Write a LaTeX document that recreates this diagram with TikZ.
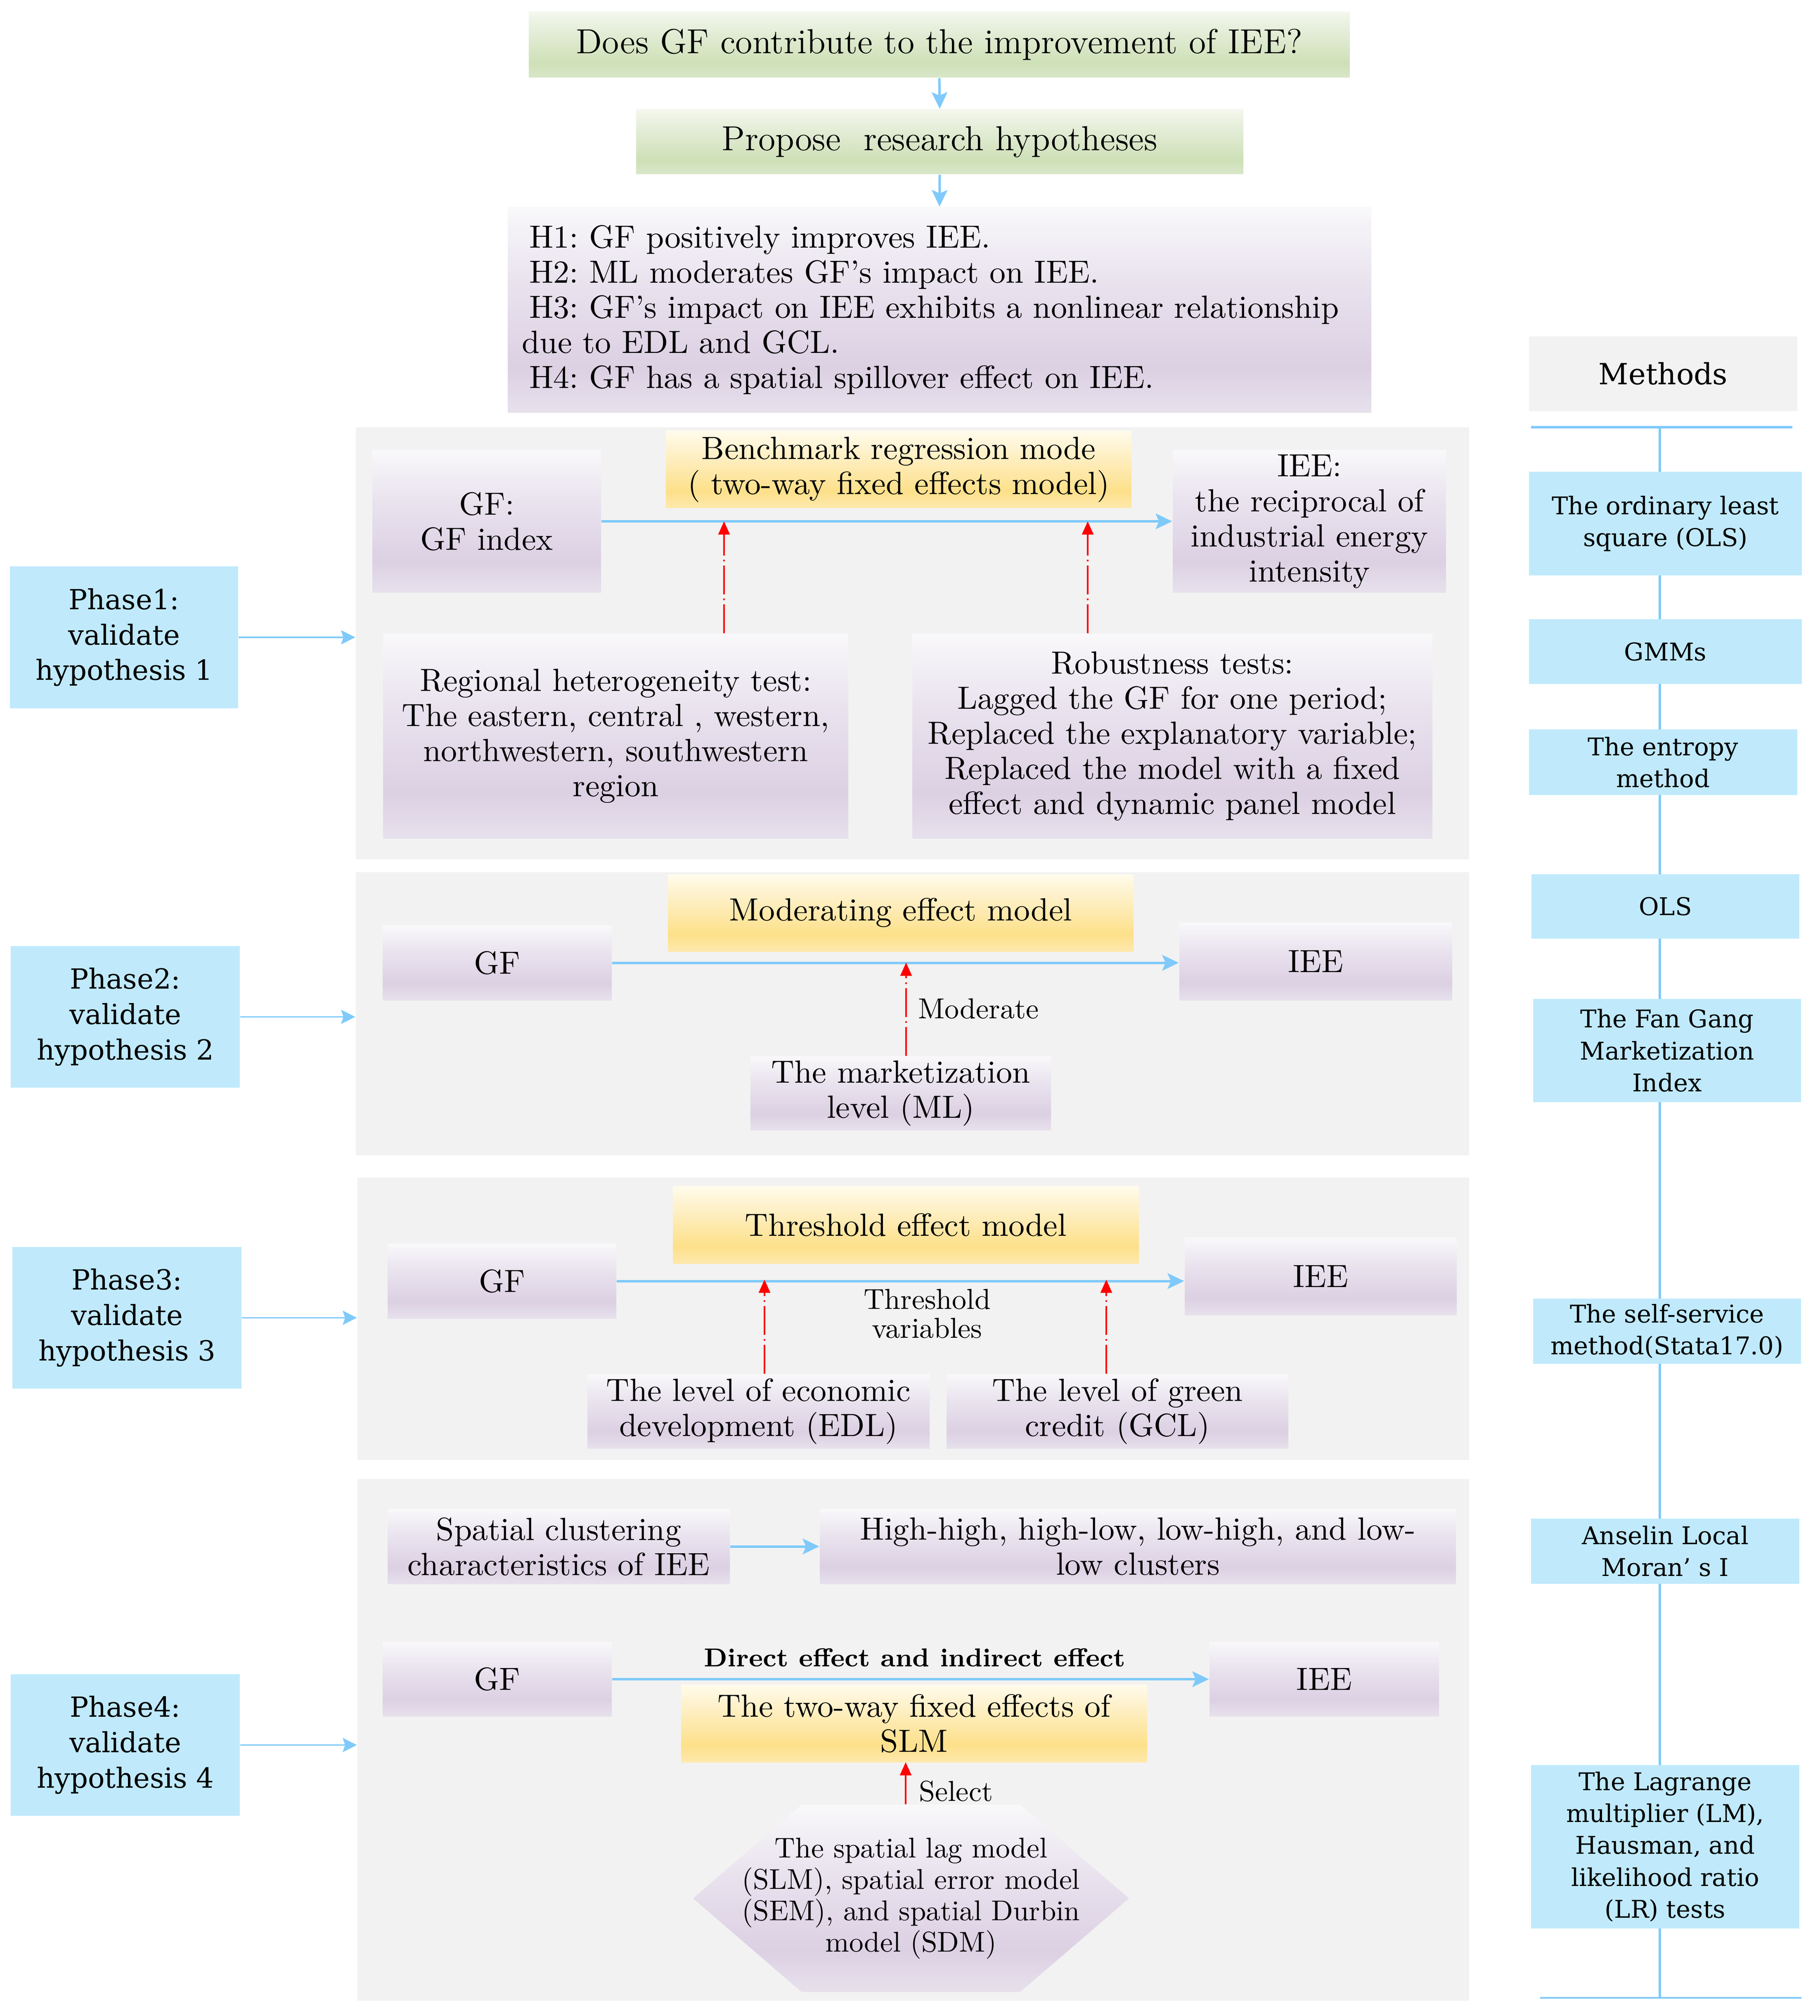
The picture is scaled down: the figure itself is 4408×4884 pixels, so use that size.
\documentclass[tikz,border=0pt]{standalone}
\usepackage{fontspec}
\newfontfamily\mfont{DejaVu Serif}
\usetikzlibrary{arrows.meta,calc}
\frenchspacing
\definecolor{panelgray}{HTML}{F2F2F2}
\definecolor{cyanfill}{HTML}{C0EAFC}
\definecolor{blueline}{HTML}{7FCAFA}
\definecolor{redline}{HTML}{FF0000}
\definecolor{pT}{HTML}{F9F8FA}
\definecolor{pM}{HTML}{EAE4EF}
\definecolor{pD}{HTML}{DCD0E3}
\definecolor{pB}{HTML}{E7E1EC}
\definecolor{yT}{HTML}{FFFBEC}
\definecolor{yM}{HTML}{FEEFC2}
\definecolor{yD}{HTML}{FDE08A}
\definecolor{yB}{HTML}{FEE9AD}
\definecolor{gT}{HTML}{F4F7EE}
\definecolor{gM}{HTML}{E2ECD5}
\definecolor{gD}{HTML}{CEE0B7}
\definecolor{gB}{HTML}{D9E7C9}
\pgfdeclareverticalshading{purp}{100bp}{color(0bp)=(pB); color(25bp)=(pB); color(36bp)=(pD); color(58bp)=(pM); color(75bp)=(pT); color(100bp)=(pT)}
\pgfdeclareverticalshading{yel}{100bp}{color(0bp)=(yB); color(25bp)=(yB); color(36bp)=(yD); color(58bp)=(yM); color(75bp)=(yT); color(100bp)=(yT)}
\pgfdeclareverticalshading{grn}{100bp}{color(0bp)=(gB); color(25bp)=(gB); color(36bp)=(gD); color(58bp)=(gM); color(75bp)=(gT); color(100bp)=(gT)}
\newcommand\bodyfont{\fontsize{10.9}{11.9}\selectfont}
\newcommand\titlefont{\fontsize{11.8}{13.3}\selectfont}
\newcommand\labfont{\fontsize{9.8}{9.8}\selectfont}
\newcommand\hexfont{\fontsize{9.7}{10.6}\selectfont}
\newcommand\methfont{\mfont\fontsize{8.3}{10.8}\selectfont}
\newcommand\phasefont{\mfont\fontsize{9.4}{12}\selectfont}
\newcommand\placebox[7]{\node[#2, minimum width={(#5-#3)*0.14pt}, minimum height={(#6-#4)*0.14pt}] (#1) at ({(#3+#5)/2},{(#4+#6)/2}) {#7};}
\begin{document}
\begin{tikzpicture}[x=0.14pt,y=-0.14pt,
  purpbox/.style={shade,shading=purp,inner sep=0.7pt,align=center,font=\bodyfont},
  yelbox/.style={shade,shading=yel,inner sep=0.7pt,align=center,font=\bodyfont},
  grnbox/.style={shade,shading=grn,inner sep=0.7pt,align=center,font=\titlefont},
  methbox/.style={fill=cyanfill,inner sep=0.7pt,align=center,font=\methfont},
  phasebox/.style={fill=cyanfill,inner sep=0.7pt,align=center,font=\phasefont},
  panelbox/.style={fill=panelgray,inner sep=0pt},
  barrow/.style={draw=blueline,line width=0.84pt,-{Stealth[length=5.6pt,width=5.3pt,inset=1.1pt]}},
  parrow/.style={draw=blueline,line width=0.5pt,-{Stealth[length=4.8pt,width=4.8pt,inset=0.8pt]}},
  rarrow/.style={draw=redline,line width=0.56pt,dash pattern=on 9.8pt off 1.4pt on 0.56pt off 1.4pt,-{Triangle[length=4.5pt,width=3.9pt]}},
  lab/.style={font=\labfont,align=center,inner sep=0pt},
  mline/.style={draw=blueline,line width=0.84pt}
]
\useasboundingbox (0,0) rectangle (4408,4884);
% methods spine
\coordinate (mlT1) at (3709,1035); \coordinate (mlT2) at (4342,1035);
\coordinate (mlV1) at (4021,1035); \coordinate (mlV2) at (4021,4840);
\coordinate (mlB1) at (3731,4840); \coordinate (mlB2) at (4364,4840);
\draw[mline] (mlT1) -- (mlT2);
\draw[mline] (mlV1) -- (mlV2);
\draw[draw=blueline,line width=0.56pt] (mlB1) -- (mlB2);
% panels
\placebox{pan1}{panelbox}{862}{1035}{3559}{2082}{}
\placebox{pan2}{panelbox}{862}{2113}{3559}{2799}{}
\placebox{pan3}{panelbox}{866}{2853}{3559}{3537}{}
\placebox{pan4}{panelbox}{866}{3583}{3559}{4847}{}
% top
\placebox{q}{grnbox}{1281}{29}{3270}{188}{Does GF contribute to the improvement of IEE?}
\placebox{prop}{grnbox}{1541}{265}{3012}{422}{Propose\ \ research hypotheses}
\placebox{hyp}{purpbox,align=left,text width=283.2pt,inner xsep=4.8pt}{1230}{502}{3322}{1000}{%
\hspace*{2.5pt}H1: GF positively improves IEE.\\
\hspace*{2.5pt}H2: ML moderates GF’s impact on IEE.\\
\makebox[283.2pt][s]{\hspace*{2.5pt}H3: GF’s impact on IEE exhibits a nonlinear relationship}\\
due to EDL and GCL.\\
\hspace*{2.5pt}H4: GF has a spatial spillover effect on IEE.}
\draw[barrow] (q.south) -- (prop.north);
\draw[barrow] (prop.south) -- (hyp.north);
% methods
\placebox{mhead}{fill=panelgray,inner sep=0.7pt,font=\mfont\fontsize{9.9}{11.9}\selectfont}{3704}{815}{4354}{996}{Methods}
\placebox{m1}{methbox}{3704}{1143}{4365}{1394}{The ordinary least\\square (OLS)}
\placebox{m2}{methbox}{3704}{1500}{4365}{1657}{GMMs}
\placebox{m3}{methbox}{3704}{1767}{4354}{1926}{The entropy\\method}
\placebox{m4}{methbox}{3710}{2118}{4359}{2274}{OLS}
\placebox{m5}{methbox}{3714}{2420}{4363}{2670}{The Fan Gang\\Marketization\\Index}
\placebox{m6}{methbox}{3714}{3146}{4363}{3304}{The self-service\\method(Stata17.0)}
\placebox{m7}{methbox}{3709}{3679}{4359}{3837}{Anselin Local\\Moran’ s I}
\placebox{m8}{methbox}{3709}{4276}{4359}{4672}{The Lagrange\\multiplier (LM),\\Hausman, and\\likelihood ratio\\(LR) tests}
% phases
\placebox{ph1}{phasebox}{24}{1372}{577}{1716}{Phase1:\\validate\\hypothesis 1}
\placebox{ph2}{phasebox}{26}{2292}{581}{2635}{Phase2:\\validate\\hypothesis 2}
\placebox{ph3}{phasebox}{30}{3021}{585}{3364}{Phase3:\\validate\\hypothesis 3}
\placebox{ph4}{phasebox}{26}{4056}{581}{4399}{Phase4:\\validate\\hypothesis 4}
\draw[parrow] (ph1.east) -- (ph1.east -| pan1.west);
\draw[parrow] (ph2.east) -- (ph2.east -| pan2.west);
\draw[parrow] (ph3.east) -- (ph3.east -| pan3.west);
\draw[parrow] (ph4.east) -- (ph4.east -| pan4.west);
% panel 1
\placebox{gf1}{purpbox}{902}{1091}{1456}{1435}{GF:\\GF index}
\placebox{bench}{yelbox}{1613}{1044}{2741}{1231}{Benchmark regression mode\\( two-way fixed effects model)}
\placebox{iee1}{purpbox}{2841}{1091}{3503}{1435}{IEE:\\the reciprocal of\\industrial energy\\intensity}
\placebox{reg}{purpbox}{928}{1535}{2055}{2031}{Regional heterogeneity test:\\The eastern, central , western,\\northwestern, southwestern\\region}
\placebox{rob}{purpbox}{2210}{1535}{3470}{2031}{Robustness tests:\\Lagged the GF for one period;\\Replaced the explanatory variable;\\Replaced the model with a fixed\\effect and dynamic panel model}
\draw[barrow] (gf1.east) -- (iee1.west);
\coordinate (t1a) at (1754,1263);
\coordinate (t1b) at (2635,1263);
\draw[rarrow] (reg.north -| t1a) -- (t1a);
\draw[rarrow] (rob.north -| t1b) -- (t1b);
% panel 2
\placebox{mod}{yelbox}{1618}{2118}{2746}{2305}{Moderating effect model}
\placebox{gf2}{purpbox}{927}{2242}{1482}{2423}{GF}
\placebox{iee2}{purpbox}{2857}{2235}{3518}{2423}{IEE}
\placebox{ml}{purpbox}{1818}{2559}{2546}{2738}{The marketization\\level (ML)}
\draw[barrow] (gf2.east) -- (gf2.east -| iee2.west);
\coordinate (t2) at (2195,2332);
\draw[rarrow] (ml.north -| t2) -- (t2);
\node[lab,anchor=west] (lmod) at (2223,2444) {Moderate};
% panel 3
\placebox{thr}{yelbox}{1630}{2873}{2759}{3061}{Threshold effect model}
\placebox{gf3}{purpbox}{939}{3013}{1493}{3194}{GF}
\placebox{iee3}{purpbox}{2870}{2998}{3529}{3186}{IEE}
\placebox{edl}{purpbox}{1423}{3329}{2252}{3509}{The level of economic\\development (EDL)}
\placebox{gcl}{purpbox}{2293}{3329}{3121}{3509}{The level of green\\credit (GCL)}
\draw[barrow] (gf3.east) -- (gf3.east -| iee3.west);
\coordinate (t3a) at (1852,3100);
\coordinate (t3b) at (2680,3100);
\draw[rarrow] (edl.north -| t3a) -- (t3a);
\draw[rarrow] (gcl.north -| t3b) -- (t3b);
\node[lab] (lthr) at (2246,3183) {Threshold\\variables};
% panel 4
\placebox{spat}{purpbox}{939}{3656}{1768}{3837}{Spatial clustering\\characteristics of IEE}
\placebox{high}{purpbox}{1986}{3656}{3527}{3837}{High-high, high-low, low-high, and low-\\low clusters}
\draw[barrow] (spat.east) -- (high.west);
\placebox{gf4}{purpbox}{927}{3978}{1482}{4158}{GF}
\placebox{iee4}{purpbox}{2930}{3978}{3486}{4158}{IEE}
\draw[barrow] (gf4.east) -- (iee4.west);
\node[lab,font=\bfseries\fontsize{8.8}{9.8}\selectfont] (ldir) at (2216,4016) {Direct effect and indirect effect};
\placebox{slm}{yelbox}{1650}{4081}{2779}{4269}{The two-way fixed effects of\\SLM}
\path[shade,shading=purp] (1679,4599) -- (1942,4372) -- (2471,4372) -- (2735,4599) -- (2471,4826) -- (1942,4826) -- cycle;
\placebox{hex}{align=center,inner sep=0pt,font=\hexfont}{1679}{4372}{2735}{4826}{The spatial lag model\\(SLM), spatial error model\\(SEM), and spatial Durbin\\model (SDM)}
\coordinate (t4) at (2194,4269);
\draw[rarrow] (hex.north -| t4) -- (t4);
\node[lab,anchor=west] (lsel) at (2225,4340) {Select};
\end{tikzpicture}
\end{document}
